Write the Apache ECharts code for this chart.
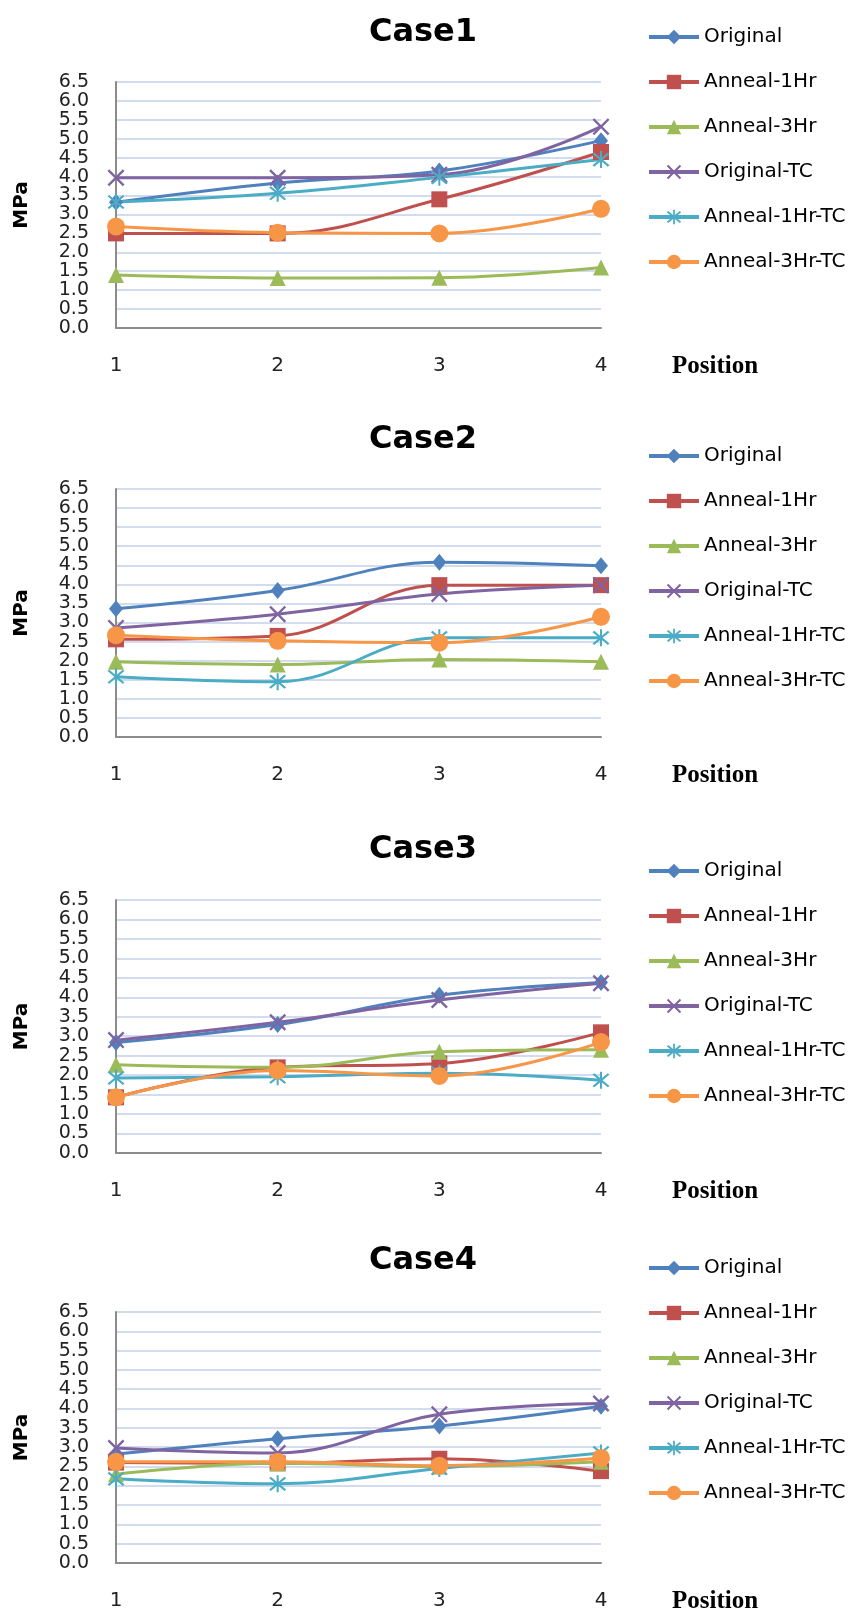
<!DOCTYPE html>
<html>
<head>
<meta charset="utf-8">
<script src="https://cdn.jsdelivr.net/npm/echarts@6/dist/echarts.min.js"></script>
<style>
  html, body { margin: 0; padding: 0; background: #fff; }
  #chart { width: 860px; height: 1614px; }
</style>
</head>
<body>
<div id="chart"></div>
<script>
// positions on the x axis
const positions = ['1', '2', '3', '4']
const seriesNames = ['Original', 'Anneal-1Hr', 'Anneal-3Hr', 'Original-TC', 'Anneal-1Hr-TC', 'Anneal-3Hr-TC']
const yTicks = [0, 6.5, 0.5] // min, max, interval

// MPa values, one row per series (same order as seriesNames)
const case1Values = [
  [3.32, 3.83, 4.15, 4.95],
  [2.50, 2.50, 3.40, 4.65],
  [1.40, 1.32, 1.33, 1.60],
  [3.97, 3.97, 4.05, 5.32],
  [3.33, 3.56, 3.98, 4.45],
  [2.68, 2.52, 2.50, 3.15]
]
const case2Values = [
  [3.36, 3.84, 4.58, 4.49],
  [2.56, 2.65, 3.98, 3.98],
  [1.97, 1.90, 2.03, 1.97],
  [2.86, 3.22, 3.75, 3.98],
  [1.58, 1.45, 2.60, 2.60],
  [2.67, 2.52, 2.47, 3.15]
]
const case3Values = [
  [2.84, 3.30, 4.05, 4.38],
  [1.43, 2.20, 2.30, 3.10],
  [2.27, 2.20, 2.60, 2.65],
  [2.90, 3.36, 3.93, 4.36],
  [1.93, 1.96, 2.05, 1.87],
  [1.43, 2.12, 1.98, 2.85]
]
const case4Values = [
  [2.82, 3.22, 3.55, 4.06],
  [2.60, 2.58, 2.70, 2.38],
  [2.30, 2.58, 2.50, 2.62],
  [2.98, 2.85, 3.85, 4.13],
  [2.18, 2.05, 2.45, 2.85],
  [2.62, 2.62, 2.52, 2.72]
]
const caseTitles = ['Case1', 'Case2', 'Case3', 'Case4']
const caseValues = [case1Values, case2Values, case3Values, case4Values]

// layout of each panel: grid top / height, title centre, legend top
const panels = [
  { top: 82, height: 246, titleY: 35, legendTop: 27 },
  { top: 489, height: 248, titleY: 442, legendTop: 446 },
  { top: 900, height: 253, titleY: 852, legendTop: 861 },
  { top: 1312, height: 251, titleY: 1263, legendTop: 1258 }
]

const colors = ['#4F81BD', '#C0504D', '#9BBB59', '#8064A2', '#4BACC6', '#F79646']
const xPath = 'path://M1,0L5,4L9,0L10,1L6,5L10,9L9,10L5,6L1,10L0,9L4,5L0,1Z'
const starPath = 'path://M1,0L5,4L9,0L10,1L6,5L10,9L9,10L5,6L1,10L0,9L4,5L0,1Z M4.4,-1L5.6,-1L5.6,11L4.4,11Z'
const symbols = ['diamond', 'rect', 'triangle', xPath, starPath, 'circle']
const symbolSizes = [[14, 17], 16, 16, 17, 17, 18]

const chart = echarts.init(document.getElementById('chart'))

const grids = [], xAxes = [], yAxes = [], titles = [], legends = [], series = []
panels.forEach((p, k) => {
  grids.push({ left: 116, right: 259, top: p.top, height: p.height })
  titles.push({
    text: caseTitles[k], left: 423, top: p.titleY - 18, textAlign: 'center', padding: 0,
    textStyle: { fontFamily: 'DejaVu Sans', fontWeight: 'bold', fontSize: 32, color: '#000' }
  })
  legends.push({
    data: seriesNames, orient: 'vertical', left: 647, top: p.legendTop, padding: 0,
    itemWidth: 50, itemHeight: 18, itemGap: 25,
    lineStyle: { width: 4 },
    textStyle: { fontFamily: 'DejaVu Sans', fontSize: 20, lineHeight: 18, color: '#000' }
  })
  xAxes.push({
    gridIndex: k, type: 'category', data: positions, boundaryGap: false,
    name: 'Position', nameLocation: 'end', nameGap: 71,
    nameTextStyle: { fontFamily: 'Liberation Serif', fontWeight: 'bold', fontSize: 25, color: '#000', verticalAlign: 'top', padding: [26, 0, 0, 0] },
    axisLine: { lineStyle: { color: '#8c8c8c', width: 2 } },
    axisTick: { show: false },
    axisLabel: { margin: 28, fontFamily: 'DejaVu Sans', fontSize: 20, color: '#222' }
  })
  yAxes.push({
    gridIndex: k, type: 'value', min: yTicks[0], max: yTicks[1], interval: yTicks[2],
    name: 'MPa', nameLocation: 'middle', nameRotate: 90, nameGap: 84,
    nameTextStyle: { fontFamily: 'DejaVu Sans', fontWeight: 'bold', fontSize: 20, color: '#000' },
    axisLine: { show: true, lineStyle: { color: '#8c8c8c', width: 2 } },
    axisTick: { show: false },
    axisLabel: {
      margin: 27, fontFamily: 'DejaVu Sans', fontSize: 19, lineHeight: 17, color: '#222',
      showMinLabel: true, showMaxLabel: true, hideOverlap: false,
      formatter: v => v.toFixed(1)
    },
    splitLine: { lineStyle: { color: '#d3dcef', width: 2 } }
  })
  seriesNames.forEach((name, i) => {
    series.push({
      name, type: 'line', xAxisIndex: k, yAxisIndex: k,
      data: caseValues[k][i],
      smooth: 0.4,
      symbol: symbols[i], symbolSize: symbolSizes[i],
      itemStyle: { color: colors[i] },
      lineStyle: { color: colors[i], width: 3 }
    })
  })
})

chart.setOption({
  animation: false,
  title: titles,
  legend: legends,
  grid: grids,
  xAxis: xAxes,
  yAxis: yAxes,
  series
})
</script>
</body>
</html>
